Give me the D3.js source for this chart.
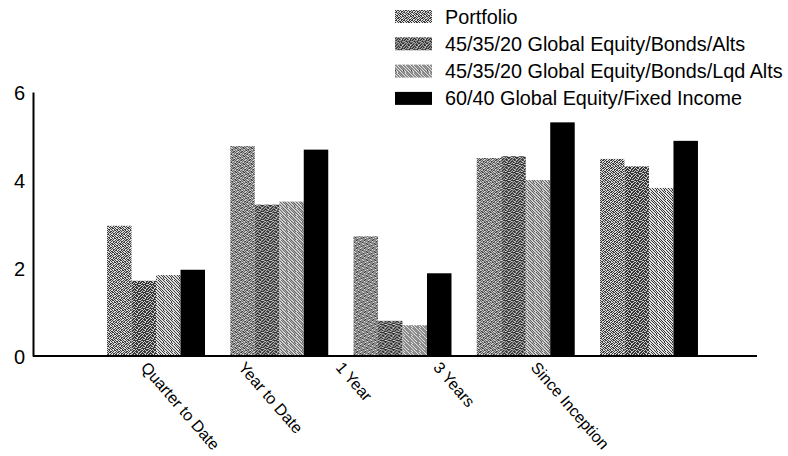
<!DOCTYPE html>
<html>
<head>
<meta charset="utf-8">
<script src="https://cdn.jsdelivr.net/npm/d3@7"></script>
<style>
  html, body { margin: 0; padding: 0; background: #fff; }
  svg { display: block; font-family: "Liberation Sans", Arial, sans-serif; }
  .ytick text { font-size: 20px; }
</style>
</head>
<body>
<svg id="chart" width="788" height="456"></svg>
<script>
// Return periods and series
const categories = ["Quarter to Date", "Year to Date", "1 Year", "3 Years", "Since Inception"];
const seriesNames = [
  "Portfolio",
  "45/35/20 Global Equity/Bonds/Alts",
  "45/35/20 Global Equity/Bonds/Lqd Alts",
  "60/40 Global Equity/Fixed Income"
];
const portfolio  = [2.96, 4.77, 2.72, 4.50, 4.48];
const bondsAlts  = [1.71, 3.44, 0.80, 4.54, 4.31];
const bondsLqd   = [1.84, 3.51, 0.70, 4.00, 3.82];
const equity6040 = [1.96, 4.69, 1.88, 5.31, 4.89];
const yTicks = [0, 2, 4, 6];

const seriesValues = [portfolio, bondsAlts, bondsLqd, equity6040];
const fills = ["url(#pat-portfolio)", "url(#pat-alts)", "url(#pat-lqd)", "#000"];

const svg = d3.select("#chart");

// Dithered grey fills built from small fixed bitmaps (1 = dark pixel)
const defs = svg.append("defs");
function ditherPattern(id, rows, dark, light) {
  const size = rows.length;
  const p = defs.append("pattern")
    .attr("id", id).attr("patternUnits", "userSpaceOnUse")
    .attr("width", size).attr("height", size);
  p.append("rect").attr("width", size).attr("height", size).attr("fill", light);
  rows.forEach((r, ry) => {
    r.split("").forEach((ch, rx) => {
      if (ch === "1") p.append("rect").attr("x", rx).attr("y", ry)
        .attr("width", 1).attr("height", 1).attr("fill", dark);
    });
  });
}
ditherPattern("pat-portfolio", [
  "10110100",
  "01001011",
  "11010010",
  "00101101",
  "10010110",
  "01101001",
  "10100101",
  "01011010"
], "#3a3a3a", "#dcdcdc");
ditherPattern("pat-alts", [
  "11010110",
  "10111001",
  "01101101",
  "11010011",
  "00111110",
  "11001011",
  "10110101",
  "01101110"
], "#333", "#d0d0d0");
ditherPattern("pat-lqd", [
  "10010100",
  "01001010",
  "00100101",
  "10010010",
  "01001001",
  "10100100",
  "10010010",
  "01001001"
], "#3a3a3a", "#e0e0e0");

const y = d3.scaleLinear().domain([0, 6]).range([356, 92]);

const x0 = d3.scaleBand().domain(categories)
  .range([94.4, 710.6]).paddingInner(0.205).paddingOuter(0.1025);
const x1 = d3.scaleBand().domain(d3.range(seriesNames.length))
  .range([0, x0.bandwidth()]);

// Bars
categories.forEach((c, ci) => {
  const g = svg.append("g").attr("transform", `translate(${x0(c)},0)`);
  seriesValues.forEach((vals, si) => {
    g.append("rect")
      .attr("x", x1(si))
      .attr("y", y(vals[ci]))
      .attr("width", x1.bandwidth())
      .attr("height", y(0) - y(vals[ci]))
      .attr("fill", fills[si]);
  });
});

// Y axis
const yAxis = d3.axisLeft(y).tickValues(yTicks).tickSize(0).tickPadding(8).tickFormat(d3.format("d"));
const gy = svg.append("g").attr("class", "ytick").attr("transform", "translate(33,0)").call(yAxis);
gy.attr("font-size", null).attr("font-family", null);
gy.select(".domain").attr("stroke", "#000").attr("stroke-width", 2);
gy.selectAll("text").attr("fill", "#000").attr("dy", "0.36em");

// X axis baseline
const xLine = d3.scaleLinear().domain([0, 1]).range([33, 757]);
svg.append("line")
  .attr("x1", xLine(0)).attr("x2", xLine(1))
  .attr("y1", y(0)).attr("y2", y(0))
  .attr("stroke", "#000").attr("stroke-width", 2);

// Category labels, slanted
const xLabel = d3.scalePoint().domain(categories).range([140, 530]);
svg.append("g").selectAll("text").data(categories).join("text")
  .attr("transform", d => `translate(${xLabel(d)},368) rotate(49)`)
  .style("font-size", "16px")
  .attr("fill", "#000")
  .text(d => d);

// Legend
const legend = svg.append("g").attr("transform", "translate(395,10)");
seriesNames.forEach((name, i) => {
  const row = legend.append("g").attr("transform", `translate(0,${i * 27.3})`);
  row.append("rect").attr("width", 37).attr("height", 13).attr("fill", fills[i]);
  row.append("text").attr("x", 50).attr("y", 13.5)
    .style("font-size", "19.8px").attr("fill", "#000").text(name);
});
</script>
</body>
</html>
